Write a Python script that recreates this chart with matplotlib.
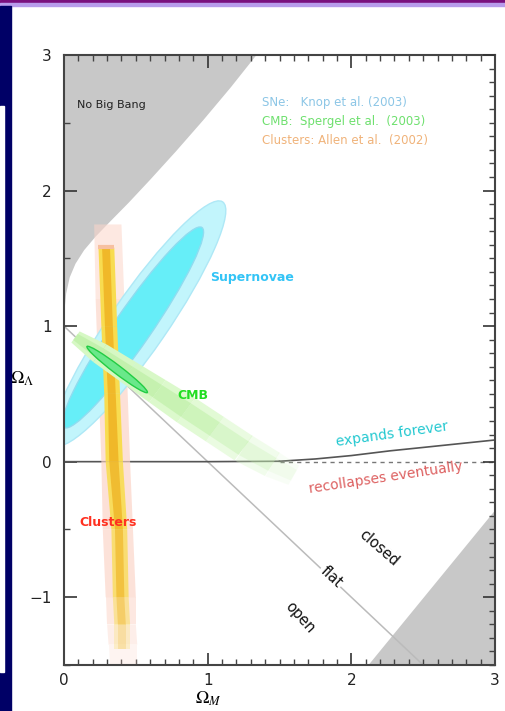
import numpy as np
import matplotlib
matplotlib.use("Agg")
import matplotlib.pyplot as plt
from matplotlib.patches import Ellipse, Polygon, Rectangle

plt.rcParams['mathtext.fontset'] = 'stix'

# "no big bang" boundary (upper left) and excluded region (lower right)
nbb_x = [0.0, 0.004, 0.015, 0.04, 0.08, 0.14, 0.22, 0.32, 0.45, 0.60, 0.78, 0.97, 1.16, 1.34]
nbb_y = [1.0, 1.12, 1.24, 1.36, 1.46, 1.56, 1.66, 1.77, 1.91, 2.08, 2.29, 2.52, 2.76, 3.0]
low_x = [2.12, 3.0, 3.0]
low_y = [-1.5, -0.36, -1.5]

# expands forever / recollapses boundary
exp_x = [0.0, 1.0, 1.5, 1.75, 2.0, 2.27, 2.5, 3.0]
exp_y = [0.0, 0.0, 0.003, 0.02, 0.045, 0.08, 0.105, 0.16]

# supernovae ellipses: (center x, center y, major, minor, angle)
sne_outer = (0.52, 1.02, 2.14, 0.40, 57)
sne_inner = (0.48, 0.99, 1.76, 0.26, 57)

# clusters band
cl_y = [1.75, 1.2, 0.6, 0.0, -0.5, -1.0, -1.2, -1.35, -1.5]
cl_out_l = [0.21, 0.22, 0.24, 0.26, 0.27, 0.29, 0.30, 0.31, 0.32]
cl_out_r = [0.40, 0.42, 0.44, 0.46, 0.48, 0.50, 0.50, 0.51, 0.51]
cl_out_a = [0.55, 0.7, 0.75, 0.75, 0.7, 0.55, 0.4, 0.25]
cl_mid_y = [1.58, 1.0, 0.5, 0.0, -0.5, -1.0, -1.2, -1.38]
cl_mid_l = [0.24, 0.26, 0.28, 0.29, 0.33, 0.34, 0.35, 0.35]
cl_mid_r = [0.35, 0.37, 0.39, 0.41, 0.44, 0.45, 0.46, 0.46]
cl_mid_a = [1.0, 1.0, 1.0, 0.9, 0.75, 0.5, 0.25]

# CMB band along the centre line
cmb_x = [0.08, 0.25, 0.45, 0.65, 0.85, 1.05, 1.25, 1.45, 1.6]
cmb_y = [0.92, 0.80, 0.66, 0.52, 0.38, 0.24, 0.10, -0.02, -0.1]
cmb_w = [0.05, 0.08, 0.09, 0.10, 0.11, 0.11, 0.11, 0.10, 0.08]
cmb_a = [1.0, 1.0, 0.95, 0.85, 0.7, 0.5, 0.32, 0.15]
cmb_inner = (0.37, 0.68, 0.54, 0.06, -39)

fig = plt.figure(figsize=(5.05, 7.11), dpi=100)

# slide decorations
fig.patches.append(Rectangle((0, 1 - 3/711), 1, 3/711, transform=fig.transFigure, color='#7a107e', zorder=0))
fig.patches.append(Rectangle((0, 1 - 6/711), 1, 3/711, transform=fig.transFigure, color='#b89cec', zorder=0))
fig.patches.append(Rectangle((0, 0), 11/505, 1 - 6/711, transform=fig.transFigure, color='#000066', zorder=0))
fig.patches.append(Rectangle((0, 39/711), 4/505, 566/711, transform=fig.transFigure, color='white', zorder=1))

ax = fig.add_axes([64/505, 46/711, 431/505, 610/711])
ax.set_xlim(0, 3)
ax.set_ylim(-1.5, 3)

gray = '#c8c8c8'
ax.fill(nbb_x + [0.0], nbb_y + [3.0], color=gray, lw=0, zorder=1)
ax.fill(low_x, low_y, color=gray, lw=0, zorder=1)

# flat line
ax.plot([0, 2.5], [1, -1.5], color='#bbbbbb', lw=1.1, zorder=1.5)

# expansion boundary
ax.plot(exp_x[:3], exp_y[:3], color='#555555', lw=1.2, zorder=2)
ax.plot(exp_x[2:], exp_y[2:], color='#555555', lw=1.2, zorder=2)
ax.plot([1.5, 3], [0, 0], color='#777777', lw=1, ls=(0, (3, 3)), zorder=2)

# clusters outer (pink)
for i in range(len(cl_y) - 1):
    pts = [(cl_out_l[i], cl_y[i]), (cl_out_r[i], cl_y[i]),
           (cl_out_r[i+1], cl_y[i+1]), (cl_out_l[i+1], cl_y[i+1])]
    ax.add_patch(Polygon(pts, closed=True, color='#fcd6ca', alpha=cl_out_a[i], lw=0, zorder=2.5))

# supernovae
cx, cy, w, h, ang = sne_outer
ax.add_patch(Ellipse((cx, cy), w, h, angle=ang, facecolor='#c2f5fc', edgecolor='#aee8f6', lw=1, zorder=3))
cx, cy, w, h, ang = sne_inner
ax.add_patch(Ellipse((cx, cy), w, h, angle=ang, facecolor='#66eef8', edgecolor='#8fdcf0', lw=1, zorder=3))

# clusters inner (yellow / orange)
for i in range(len(cl_mid_y) - 1):
    pts = [(cl_mid_l[i], cl_mid_y[i]), (cl_mid_r[i], cl_mid_y[i]),
           (cl_mid_r[i+1], cl_mid_y[i+1]), (cl_mid_l[i+1], cl_mid_y[i+1])]
    ax.add_patch(Polygon(pts, closed=True, color='#f8dc50', alpha=cl_mid_a[i], lw=0, zorder=3.5))
    pts = [(cl_mid_l[i] + 0.025, cl_mid_y[i]), (cl_mid_r[i] - 0.03, cl_mid_y[i]),
           (cl_mid_r[i+1] - 0.03, cl_mid_y[i+1]), (cl_mid_l[i+1] + 0.025, cl_mid_y[i+1])]
    ax.add_patch(Polygon(pts, closed=True, color='#eeb020', alpha=cl_mid_a[i] * 0.8, lw=0, zorder=3.6))
ax.plot([cl_mid_l[0], cl_mid_r[0]], [cl_mid_y[0], cl_mid_y[0]], color='#f7c0a0', lw=3, zorder=3.7,
        solid_capstyle='butt')

# CMB band
for i in range(len(cmb_x) - 1):
    dx = cmb_x[i+1] - cmb_x[i]
    dy = cmb_y[i+1] - cmb_y[i]
    n = np.hypot(dx, dy)
    nx, ny = -dy / n, dx / n
    pts = [(cmb_x[i] + nx * cmb_w[i], cmb_y[i] + ny * cmb_w[i]),
           (cmb_x[i+1] + nx * cmb_w[i+1], cmb_y[i+1] + ny * cmb_w[i+1]),
           (cmb_x[i+1] - nx * cmb_w[i+1], cmb_y[i+1] - ny * cmb_w[i+1]),
           (cmb_x[i] - nx * cmb_w[i], cmb_y[i] - ny * cmb_w[i])]
    ax.add_patch(Polygon(pts, closed=True, color='#d6f8c4', alpha=cmb_a[i], lw=0, zorder=4))
    wi = cmb_w[i] * 0.55
    wj = cmb_w[i+1] * 0.55
    pts = [(cmb_x[i] + nx * wi, cmb_y[i] + ny * wi),
           (cmb_x[i+1] + nx * wj, cmb_y[i+1] + ny * wj),
           (cmb_x[i+1] - nx * wj, cmb_y[i+1] - ny * wj),
           (cmb_x[i] - nx * wi, cmb_y[i] - ny * wi)]
    ax.add_patch(Polygon(pts, closed=True, color='#bff0a8', alpha=cmb_a[i] * 0.8, lw=0, zorder=4.1))
cx, cy, w, h, ang = cmb_inner
ax.add_patch(Ellipse((cx, cy), w, h, angle=ang, facecolor='#6ae88a', edgecolor='#22cc44', lw=1, zorder=4.5))

# labels inside the plot
ax.text(0.09, 2.63, 'No Big Bang', fontsize=8, color='#222222', va='center', zorder=6)
ax.text(1.38, 2.65, 'SNe:   Knop et al. (2003)', fontsize=8.5, color='#8cc6e6', va='center', zorder=6)
ax.text(1.38, 2.51, 'CMB:  Spergel et al.  (2003)', fontsize=8.5, color='#6ee06e', va='center', zorder=6)
ax.text(1.38, 2.37, 'Clusters: Allen et al.  (2002)', fontsize=8.5, color='#f0b37a', va='center', zorder=6)
ax.text(1.02, 1.36, 'Supernovae', fontsize=9, fontweight='bold', color='#33c4f6', va='center', zorder=6)
ax.text(0.79, 0.49, 'CMB', fontsize=9, fontweight='bold', color='#22dd22', va='center', zorder=6)
ax.text(0.11, -0.45, 'Clusters', fontsize=9, fontweight='bold', color='#ff3020', va='center', zorder=6)
ax.text(2.28, 0.20, 'expands forever', fontsize=10, color='#22c8d0', rotation=8,
        ha='center', va='center', zorder=6)
ax.text(2.24, -0.12, 'recollapses eventually', fontsize=10, color='#dd6060', rotation=8.5,
        ha='center', va='center', zorder=6)
ax.text(2.19, -0.64, 'closed', fontsize=10.5, color='#111111', rotation=-41,
        ha='center', va='center', zorder=6)
ax.text(1.86, -0.85, 'flat', fontsize=10.5, color='#111111', rotation=-43,
        ha='center', va='center', zorder=6,
        bbox=dict(facecolor='white', edgecolor='none', pad=1))
ax.text(1.64, -1.15, 'open', fontsize=10.5, color='#111111', rotation=-48,
        ha='center', va='center', zorder=6)

# axes
for s in ax.spines.values():
    s.set_color('#444444')
    s.set_linewidth(1.5)
    s.set_zorder(7)

ax.set_xticks([0, 1, 2, 3])
ax.set_xticks(np.arange(0, 3.01, 0.1), minor=True)
ax.set_yticks([-1, 0, 1, 2, 3])
ax.set_yticks([-1.5, -0.5, 0.5, 1.5, 2.5], minor=True)
ax.tick_params(which='major', direction='in', length=9, width=1.2, color='#333333',
               top=True, right=False, labelsize=11, labelcolor='#222222')
ax.tick_params(axis='x', which='major', pad=6)
ax.tick_params(axis='y', which='major', pad=9)
ax.tick_params(which='minor', direction='in', length=4, width=1.0, color='#444444',
               top=True, right=False)
ax.set_yticklabels(['\u22121', '0', '1', '2', '3'])

ax2 = ax.twinx()
ax2.set_ylim(-1.5, 3)
ax2.set_yticks([-1, 0, 1, 2, 3])
ax2.set_yticks(np.arange(-1.5, 3.01, 0.1), minor=True)
ax2.tick_params(which='major', direction='in', length=9, width=1.2, color='#333333', labelright=False)
ax2.tick_params(which='minor', direction='in', length=4, width=1.0, color='#444444')
for s in ax2.spines.values():
    s.set_visible(False)

ax.text(-0.097, 0.47, r'$\Omega_\Lambda$', transform=ax.transAxes, fontsize=13,
        ha='center', va='center')
ax.text(0.336, -0.056, r'$\Omega_M$', transform=ax.transAxes, fontsize=13,
        ha='center', va='center')

fig.savefig('out.png', dpi=100)
